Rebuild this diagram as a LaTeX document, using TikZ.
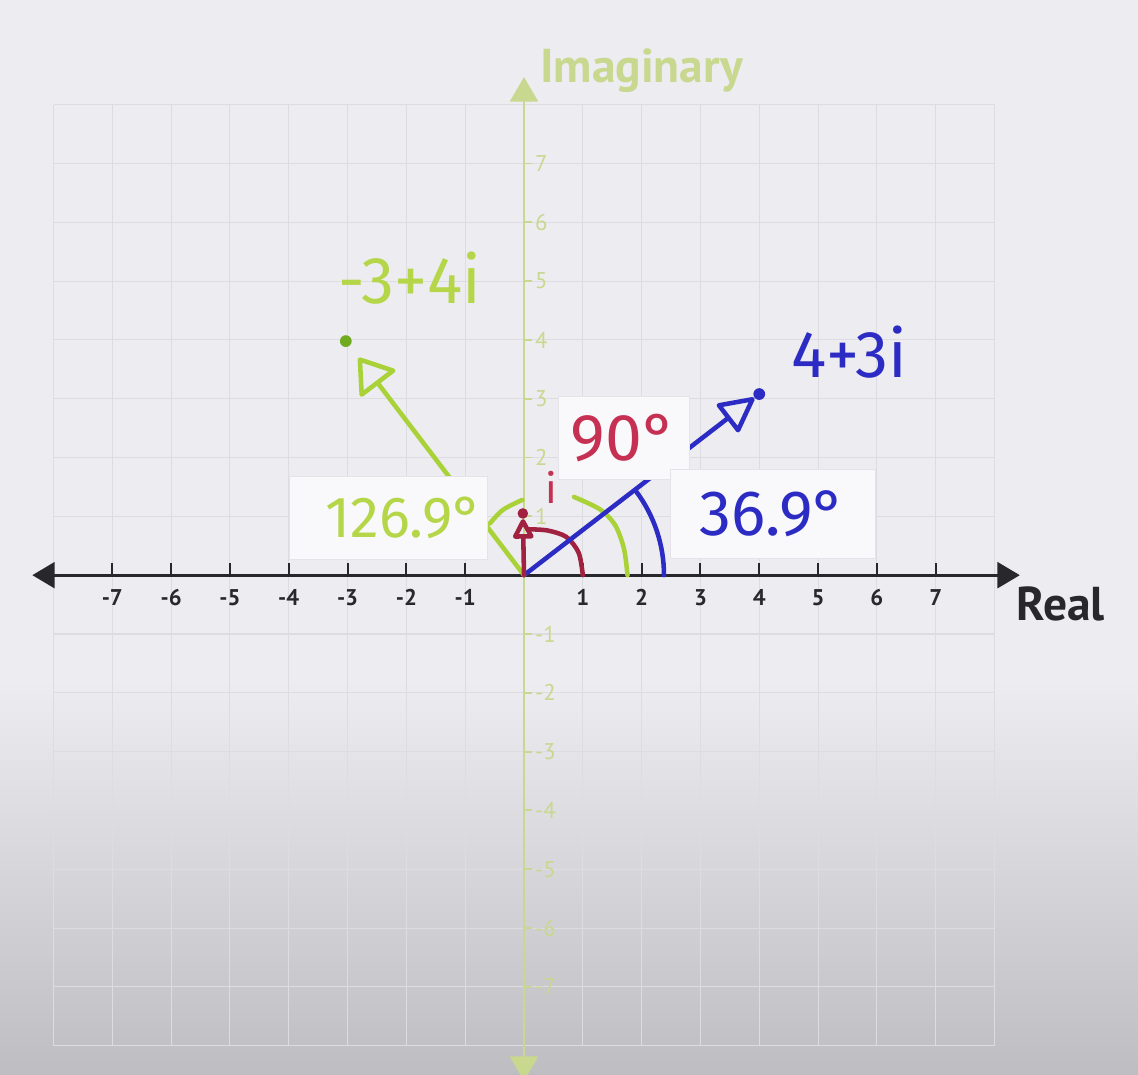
\documentclass[tikz,border=0pt]{standalone}
\usepackage{fontspec}
\newfontfamily\handfont{Fira Sans}
\newfontfamily\labelfont{PT Sans}
\usepackage{xcolor}
\definecolor{paper}{RGB}{237,236,240}
\definecolor{paperdark}{RGB}{190,189,194}
\definecolor{gridgray}{RGB}{222,220,227}
\definecolor{axisink}{RGB}{40,40,44}
\definecolor{imagreen}{RGB}{200,216,142}
\definecolor{penblue}{RGB}{44,44,196}
\definecolor{penred}{RGB}{198,48,82}
\definecolor{penmaroon}{RGB}{160,34,64}
\definecolor{pengreen}{RGB}{168,210,56}
\definecolor{pentext}{RGB}{180,214,72}
\definecolor{pendotgreen}{RGB}{112,170,32}
\definecolor{cardwhite}{RGB}{249,249,251}
\usepackage{tikz}
\usetikzlibrary{positioning,arrows.meta,calc}
\tikzset{
  gridline/.style={draw=gridgray, line width=0.5pt},
  realaxis/.style={
    draw=axisink, line width=1.3pt,
    {Triangle[length=0.38cm,width=0.44cm]}-{Triangle[length=0.38cm,width=0.44cm]}
  },
  imagaxis/.style={
    draw=imagreen, line width=1.1pt,
    {Triangle[length=0.42cm,width=0.48cm]}-{Triangle[length=0.42cm,width=0.48cm]}
  },
  realtick/.style={draw=axisink, line width=1pt},
  imagtick/.style={draw=imagreen, line width=0.9pt},
  reallabel/.style={font=\labelfont\bfseries\fontsize{11}{12}\selectfont, text=axisink, inner sep=1pt},
  imaglabel/.style={font=\labelfont\fontsize{11}{12}\selectfont, text=imagreen, inner sep=1pt},
  axisname/.style={font=\labelfont\bfseries\fontsize{23}{26}\selectfont, inner sep=0pt},
  penline/.style={line width=2.2pt, line cap=round, line join=round},
  vecarrow/.style={penline, -{Triangle[open, length=#1, width=#1, round]}},
  pendot/.style={circle, fill=#1, inner sep=0pt, minimum size=0.2cm},
  handtext/.style={font=\handfont\fontsize{#1}{#1}\selectfont, inner sep=0pt},
  card/.style={
    rectangle, fill=cardwhite, draw=gridgray!80, line width=0.4pt,
    inner sep=0pt
  },
}

\begin{document}
\begin{tikzpicture}

  \useasboundingbox (-8.91,-8.49) rectangle (10.44,9.78);
  \fill[paper] (-8.91,-8.49) rectangle (10.44,9.78);
  \shade[top color=paper, bottom color=paperdark] (-8.91,-8.49) rectangle (10.44,-1.8);

  \draw[gridline] (-8,-8) grid (8,8);

  % axes
  \coordinate (imagS) at (0,-8.6);
  \coordinate (imagN) at (0,8.47);
  \coordinate (realW) at (-8.36,0);
  \coordinate (realE) at (8.43,0);
  \coordinate (O) at (0,0);

  \draw[imagaxis] (imagS) -- (imagN);
  \draw[realaxis] (realW) -- (realE);

  \foreach \y in {-7,...,-1,1,2,...,7}
    \draw[imagtick] (0,\y) -- (0.14,\y) node[imaglabel, right] (yt\y) {\y};
  \foreach \x in {-7,...,-1,1,2,...,7} {
    \draw[realtick] (\x,0) -- (\x,0.2);
    \node[reallabel] (xt\x) at (\x,-0.38) {\x};
  }

  \node[axisname, text=imagreen, anchor=base west] (imagname) at (0.27,8.37) {Imaginary};
  \node[axisname, text=axisink, anchor=base west] (realname) at (8.37,-0.77) {Real};

  % angle marks, drawn by hand round the origin
  \draw[penline, penmaroon] plot[smooth] coordinates {(1.0,0) (0.93,0.38) (0.72,0.65) (0.4,0.76) (0.07,0.78)};
  \draw[penline, pengreen] plot[smooth] coordinates {(1.76,0) (1.70,0.45) (1.55,0.85) (1.29,1.12) (0.85,1.33)};
  \draw[penline, pengreen] plot[smooth] coordinates {(-0.03,1.28) (-0.36,1.11) (-0.58,0.88)};
  \draw[penline, penblue] (2.38,0) arc[start angle=0, end angle=36.9, radius=2.38];

  % the three numbers
  \node[pendot=penblue] (zb) at (4,3.08) {};
  \node[pendot=pendotgreen] (zg) at (-3.03,3.98) {};
  \node[pendot=penmaroon, minimum size=0.18cm] (zi) at (-0.02,1.05) {};

  \draw[vecarrow=0.64cm, penblue] (O) -- (zb);
  \draw[penline, pengreen, shorten >=0.25cm, -{Triangle[open, length=0.6cm, width=0.8cm, round]}] (O) -- (zg);
  \draw[vecarrow=0.38cm, penmaroon] (O) -- (zi);

  \node[handtext=32, text=penblue] (lblb) at (5.53,3.79) {4+3i};
  \node[handtext=32, text=pentext] (lblg) at (-1.94,5.05) {-3+4i};
  \node[handtext=20, text=penred, anchor=base] (lbli) at (0.47,1.22) {i};

  % paper cards stuck over the lines
  \node[card, minimum width=2.24cm, minimum height=1.41cm,
        handtext=32, text=penred] (ang90) at (1.70,2.33) {90°};
  \node[card, minimum width=3.49cm, minimum height=1.5cm,
        handtext=31, text=penblue] (ang37) at (4.23,1.04) {36.9°};
  \node[card, minimum width=3.37cm, minimum height=1.41cm, text width=3.2cm, align=right,
        handtext=28, text=pentext] (ang127) at (-2.30,0.97) {126.9°};

\end{tikzpicture}
\end{document}
